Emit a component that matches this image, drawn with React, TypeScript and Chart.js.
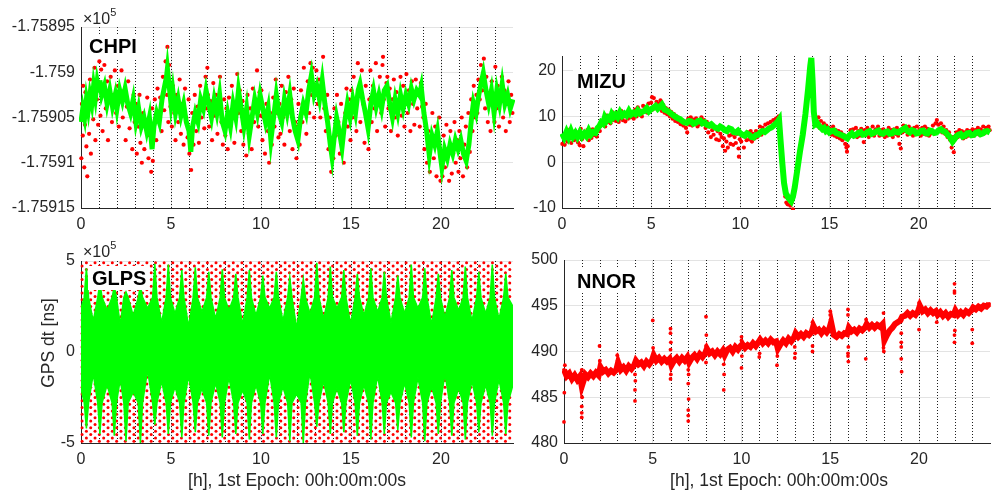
import { useEffect, useRef } from 'react';
import { Chart, registerables } from 'chart.js';

Chart.register(...registerables);

const FONT = '"Liberation Sans", Arial, Helvetica, sans-serif';
const AXIS_COLOR = '#262626';
const RED = '#ff0000';
const GREEN = '#00ff00';

// ---------- shared axis data ----------
const xTickHours = [0, 5, 10, 15, 20];
const hourLines = [1, 2, 3, 4, 5, 6, 7, 8, 9, 10, 11, 12, 13, 14, 15, 16, 17, 18, 19, 20, 21, 22, 23];
const xLabelText = '[h], 1st Epoch: 00h:00m:00s';
const yLabelText = 'GPS dt [ns]';

// ---------- CHPI (ns; offsets relative to chpiRef) ----------
const chpiRef = -175900;
const chpiYTicks = [-175915, -175910, -175905, -175900, -175895];
const chpiGreen = [
  [0, -5.5], [0.1, -4.0], [0.2, -5.0], [0.3, -3.0], [0.4, -4.2], [0.5, -2.5], [0.6, -3.5], [0.7, -1.5], [0.8, -2.8], [0.9, -1.0],
  [1.0, -2.0], [1.05, -0.9], [1.15, -2.5], [1.3, -1.5], [1.45, -3.5], [1.6, -2.0], [1.75, -3.8], [1.9, -2.5], [2.0, -4.0], [2.15, -2.0],
  [2.3, -3.2], [2.45, -1.8], [2.6, -3.5], [2.75, -4.5], [2.9, -3.0], [3.05, -5.5], [3.2, -4.0], [3.35, -6.0], [3.5, -5.0], [3.65, -6.5],
  [3.8, -5.0], [3.95, -8.5], [4.05, -6.0], [4.2, -4.5], [4.35, -5.5], [4.5, -3.0], [4.6, -2.0], [4.75, -0.5], [4.8, 0.4], [4.9, -1.5],
  [5.0, -3.5], [5.1, -2.0], [5.25, -4.5], [5.4, -3.0], [5.55, -4.8], [5.7, -3.5], [5.85, -5.5], [6.0, -6.5], [6.1, -8.8], [6.2, -6.0],
  [6.35, -4.5], [6.5, -5.5], [6.65, -3.0], [6.8, -4.0], [6.95, -2.0], [7.1, -3.5], [7.25, -5.0], [7.4, -3.0], [7.55, -4.5], [7.7, -2.5],
  [7.85, -5.5], [8.0, -6.5], [8.15, -4.5], [8.3, -6.0], [8.45, -3.5], [8.6, -5.0], [8.75, -2.0], [8.9, -4.0], [9.05, -6.0], [9.2, -4.0],
  [9.35, -7.0], [9.5, -5.0], [9.65, -3.0], [9.8, -4.5], [9.95, -2.5], [10.1, -4.0], [10.25, -5.5], [10.4, -4.0], [10.55, -7.5], [10.7, -5.0],
  [10.85, -2.5], [11.0, -4.5], [11.15, -5.5], [11.3, -3.0], [11.45, -4.5], [11.6, -2.5], [11.75, -5.0], [11.9, -6.5], [12.05, -7.5], [12.2, -5.0],
  [12.35, -3.5], [12.5, -4.5], [12.65, -2.0], [12.8, -0.3], [12.95, -2.5], [13.1, -1.5], [13.25, -3.0], [13.4, -0.9], [13.55, -3.5], [13.7, -5.5],
  [13.85, -8.0], [13.95, -9.4], [14.05, -7.5], [14.2, -5.0], [14.35, -6.5], [14.5, -8.3], [14.65, -5.5], [14.8, -3.5], [14.95, -5.0], [15.1, -3.0],
  [15.25, -4.5], [15.4, -2.0], [15.5, -1.3], [15.65, -3.0], [15.8, -4.5], [15.95, -6.2], [16.1, -3.5], [16.25, -2.0], [16.4, -3.8], [16.55, -2.5],
  [16.7, -4.0], [16.85, -2.0], [17.0, -1.5], [17.15, -3.5], [17.3, -5.0], [17.45, -3.0], [17.6, -4.5], [17.75, -2.5], [17.9, -4.0], [18.05, -2.5],
  [18.2, -3.5], [18.35, -1.8], [18.5, -3.0], [18.65, -2.0], [18.8, -2.5], [18.9, -1.6], [19.05, -4.5], [19.2, -6.5], [19.35, -9.2], [19.5, -7.0],
  [19.65, -8.0], [19.8, -6.5], [19.95, -9.0], [20.05, -10.5], [20.2, -8.5], [20.35, -9.5], [20.5, -8.0], [20.65, -9.0], [20.8, -7.5], [20.95, -8.5],
  [21.1, -7.5], [21.25, -9.0], [21.4, -9.8], [21.55, -8.0], [21.7, -5.0], [21.8, -3.4], [21.95, -4.5], [22.1, -2.5], [22.25, -1.0], [22.35, -0.1],
  [22.5, -2.0], [22.65, -3.5], [22.8, -2.0], [22.95, -4.5], [23.1, -2.0], [23.25, -3.5], [23.4, -1.3], [23.55, -3.5], [23.7, -2.5], [23.85, -4.0],
  [24.0, -3.0],
];
const chpiRed = [
  [0.02, -9.5], [0.05, -3.5], [0.1, -7], [0.12, -1.5], [0.18, -10.5], [0.22, -5.8], [0.25, -2.2], [0.3, -8.2], [0.35, -11.5], [0.4, -4.5],
  [0.45, -6.8], [0.5, -0.8], [0.55, -9], [0.6, -2.8], [0.68, -5.2], [0.75, 0.5], [0.8, -7.5], [0.88, -3], [0.95, -5.8],
  [1.02, 1.2], [1.08, -4.8], [1.12, 0.3], [1.2, -6.5], [1.25, -2.2], [1.3, 0.8], [1.38, -4], [1.45, -1], [1.5, -7.5], [1.58, -3],
  [1.65, -0.5], [1.72, -5.5], [1.8, -2.5], [1.88, 0.2], [1.95, -4.5],
  [2.05, -1.5], [2.1, -6], [2.18, -3.2], [2.25, 0.2], [2.32, -5], [2.4, -2], [2.48, -7.5], [2.55, -3.8], [2.62, -1], [2.7, -6.2],
  [2.78, -4], [2.85, -8.5], [2.92, -2.5], [2.98, -5.5],
  [3.05, -3.5], [3.1, -9], [3.18, -6], [3.25, -2.5], [3.3, -7.8], [3.38, -10], [3.45, -4.5], [3.52, -8.5], [3.6, -6], [3.68, -2.8],
  [3.75, -9.5], [3.82, -7], [3.9, -11], [3.95, -4], [3.99, -9.8],
  [4.05, -5.8], [4.1, -3], [4.18, -7.5], [4.25, -1.8], [4.32, -5], [4.4, -2.8], [4.48, -6.5], [4.55, -0.5], [4.62, -4.2], [4.7, 1.2],
  [4.78, -2.5], [4.8, 2.8], [4.82, 0.2], [4.85, -5.5], [4.9, 0.8], [4.97, -3.8],
  [5.05, -6], [5.1, -1.5], [5.18, -4.5], [5.25, -7.5], [5.32, -2.5], [5.4, -5.5], [5.48, -0.8], [5.55, -6.8], [5.62, -3.5], [5.7, -8],
  [5.78, -1.8], [5.85, -5], [5.92, -7.2], [5.98, -3],
  [6.02, -9], [6.08, -6.5], [6.12, -10.8], [6.18, -4.5], [6.25, -8], [6.32, -2.5], [6.4, -6.5], [6.48, -3.8], [6.55, -7.8], [6.62, -1.5],
  [6.7, -5], [6.78, -3], [6.85, -6.2], [6.92, -0.5], [6.98, -4],
  [7.02, 0.5], [7.05, -2.5], [7.12, -6], [7.2, -3.2], [7.28, -7.5], [7.35, -1.2], [7.42, -4.8], [7.5, -2.5], [7.58, -6.8], [7.65, -3.8],
  [7.72, -0.5], [7.8, -5.5], [7.88, -8], [7.95, -3],
  [8.02, -7], [8.08, -4], [8.15, -8.5], [8.22, -2.8], [8.3, -6], [8.38, -1.5], [8.45, -5], [8.52, -7.8], [8.6, -3.5], [8.68, -0.2],
  [8.75, -4.5], [8.82, -2], [8.9, -6.5], [8.97, -3.2],
  [9.02, -8], [9.1, -4.5], [9.18, -9.2], [9.25, -2.5], [9.32, -6.8], [9.4, -4], [9.48, -8.5], [9.55, -1.8], [9.62, -5.5], [9.7, -3],
  [9.78, 0.2], [9.85, -6], [9.92, -2.2], [9.98, -4.8],
  [10.02, -2], [10.08, -7.5], [10.15, -5], [10.22, -9], [10.3, -3.5], [10.38, -6.5], [10.45, -10], [10.52, -4.5], [10.6, -8], [10.68, -2.8],
  [10.75, -6], [10.82, -0.8], [10.9, -4.5], [10.97, -7.2],
  [11.02, -3.5], [11.08, -6.8], [11.15, -1.5], [11.22, -5], [11.3, -8], [11.38, -2.2], [11.45, -4.5], [11.52, -0.5], [11.6, -6.5], [11.68, -3],
  [11.75, -8.5], [11.82, -1.8], [11.9, -5.5], [11.97, -9.5],
  [12.02, -6], [12.08, -3.5], [12.15, -8], [12.22, -2], [12.3, -5.5], [12.38, 0.5], [12.45, -3.8], [12.52, -6.8], [12.6, -1], [12.68, -4.5],
  [12.75, 1], [12.82, -2.5], [12.88, 0.5], [12.95, -5],
  [13.02, -1.5], [13.08, 0.2], [13.15, -3.5], [13.22, -0.8], [13.3, -5], [13.38, -2], [13.45, 1.7], [13.52, -4], [13.6, -6.5], [13.68, -2.5],
  [13.75, -8.5], [13.82, -5], [13.9, -11], [13.97, -7.5],
  [14.02, -9.5], [14.08, -4], [14.15, -7], [14.22, -2.5], [14.3, -5.5], [14.38, -9], [14.45, -3.5], [14.52, -6.5], [14.6, -10], [14.68, -4.5],
  [14.75, -1.8], [14.82, -6], [14.9, -3], [14.97, -7.5],
  [15.02, -2], [15.08, -5], [15.15, -0.5], [15.22, -3.8], [15.3, -6.5], [15.38, 1], [15.45, -2.5], [15.52, -5.5], [15.6, 0.2], [15.68, -3.5],
  [15.75, -7.8], [15.82, -1.5], [15.9, -4.8], [15.97, -8.5],
  [16.02, -3], [16.08, 0.2], [16.15, -5.5], [16.22, -1.5], [16.3, -4], [16.38, 1], [16.45, -6.5], [16.52, -2.5], [16.6, -0.5], [16.68, -4.5],
  [16.75, 0.8], [16.78, 1.7], [16.82, -3], [16.9, -6], [16.97, -1.2],
  [17.02, -0.5], [17.08, -4], [17.15, -1.8], [17.22, -6.5], [17.3, -3], [17.38, -0.8], [17.45, -5], [17.52, -2.2], [17.6, -7], [17.68, -3.5],
  [17.75, -0.5], [17.82, -4.8], [17.9, -1.5], [17.97, -6],
  [18.02, -3], [18.08, -0.2], [18.15, -4.5], [18.22, -2], [18.3, -6.5], [18.38, -1], [18.45, -3.5], [18.52, -5.8], [18.6, -0.8], [18.68, -4],
  [18.75, -2.5], [18.82, -6], [18.88, -1.2], [18.95, -3.8],
  [19.02, -5], [19.08, -8.5], [19.15, -3.5], [19.22, -10], [19.3, -6.5], [19.38, -11], [19.45, -7.5], [19.52, -4.5], [19.6, -9.5], [19.68, -6],
  [19.75, -11.5], [19.82, -8], [19.9, -5], [19.97, -12],
  [20.02, -9], [20.08, -11.5], [20.15, -7], [20.22, -10.5], [20.3, -5.8], [20.38, -8.5], [20.45, -12], [20.52, -6.5], [20.6, -11.2], [20.68, -9],
  [20.75, -5.5], [20.82, -10], [20.9, -7.5], [20.97, -11],
  [21.02, -6.5], [21.08, -9.5], [21.15, -5], [21.22, -11.5], [21.3, -8], [21.38, -6], [21.45, -10.5], [21.52, -4.5], [21.6, -8.8], [21.68, -3],
  [21.75, -6.5], [21.82, -1.5], [21.9, -5], [21.97, -2.5],
  [22.02, -4.5], [22.08, -0.8], [22.15, -3], [22.22, 0.8], [22.3, -2], [22.38, 1.5], [22.45, -4], [22.52, -0.5], [22.6, -5.5], [22.68, -2.5],
  [22.75, -6.5], [22.82, -1], [22.9, -3.5], [22.97, -5.5],
  [23.02, 0.6], [23.08, -4], [23.15, -1.5], [23.22, -6], [23.3, -2.8], [23.38, -0.5], [23.45, -5], [23.52, -2], [23.6, -6.5], [23.68, -3.5],
  [23.75, -1], [23.82, -5.5], [23.9, -2.5], [23.97, -4.5],
];

// ---------- MIZU (ns) ----------
const mizuYTicks = [-10, 0, 10, 20];
const mizuYMin = -10;
const mizuYMax = 23.2;
const mizuGreen = [
  [0, 6.3], [0.12, 5.4], [0.25, 6.6], [0.37, 5.5], [0.5, 6.8], [0.62, 5.6], [0.75, 6.4], [0.87, 5.5], [1.0, 6.5], [1.12, 5.6],
  [1.25, 6.3], [1.37, 5.7], [1.5, 6.9], [1.62, 6.0], [1.75, 6.6], [1.87, 6.4], [2.0, 7.5], [2.1, 7.9], [2.2, 8.7], [2.3, 8.4],
  [2.4, 9.8], [2.5, 9.1], [2.6, 9.7], [2.7, 9.3], [2.8, 10.5], [2.9, 9.9], [3.0, 10.4], [3.12, 9.8], [3.25, 10.9], [3.37, 10.1],
  [3.5, 10.6], [3.62, 10.2], [3.75, 11.2], [3.87, 10.4], [4.0, 10.8], [4.12, 10.5], [4.25, 11.3], [4.37, 10.7], [4.5, 11.0], [4.62, 11.2],
  [4.75, 11.8], [4.87, 11.1], [5.0, 11.6], [5.12, 11.9], [5.25, 12.3], [5.37, 11.7], [5.5, 12.2], [5.6, 12.6], [5.75, 11.5], [5.87, 11.3],
  [6.0, 11.0], [6.12, 10.6], [6.25, 10.2], [6.37, 9.9], [6.5, 9.6], [6.62, 9.4], [6.75, 9.0], [6.87, 8.7], [7.0, 8.6], [7.12, 9.0],
  [7.25, 8.9], [7.37, 8.4], [7.5, 8.6], [7.62, 9.0], [7.75, 9.1], [7.87, 8.5], [8.0, 8.7], [8.12, 8.2], [8.25, 8.0], [8.37, 8.3],
  [8.5, 7.8], [8.62, 7.5], [8.75, 7.3], [8.87, 7.8], [9.0, 7.5], [9.12, 7.0], [9.25, 6.8], [9.37, 7.4], [9.5, 7.2], [9.62, 6.6],
  [9.75, 6.5], [9.87, 6.9], [10.0, 6.3], [10.12, 6.0], [10.25, 5.8], [10.37, 6.3], [10.5, 6.0], [10.62, 5.5], [10.75, 5.4], [10.87, 5.9],
  [11.0, 6.0], [11.12, 6.5], [11.25, 6.8], [11.37, 6.6], [11.5, 7.0], [11.62, 7.4], [11.75, 7.6], [11.87, 8.0], [12.0, 8.5], [12.1, 8.9],
  [12.17, 9.3], [12.25, 5.0], [12.35, 0.0], [12.45, -4.5], [12.55, -6.8], [12.7, -7.8], [12.85, -8.5], [12.95, -7.5], [13.05, -5.5], [13.2, -1.5],
  [13.35, 2.5], [13.5, 6.0], [13.65, 10.5], [13.8, 16.0], [13.92, 21.0], [13.98, 22.8], [14.05, 18.0], [14.12, 11.0], [14.2, 8.3], [14.3, 8.6],
  [14.4, 8.0], [14.5, 7.6], [14.6, 7.2], [14.7, 7.5], [14.8, 6.8], [14.9, 7.1], [15.0, 6.5], [15.12, 6.8], [15.25, 6.9], [15.37, 6.4],
  [15.5, 6.2], [15.62, 6.0], [15.75, 5.8], [15.87, 5.5], [16.0, 5.2], [16.12, 5.9], [16.25, 6.3], [16.37, 5.8], [16.5, 6.0], [16.62, 6.4],
  [16.75, 6.6], [16.87, 6.0], [17.0, 6.1], [17.12, 6.6], [17.25, 6.8], [17.37, 6.2], [17.5, 6.4], [17.62, 6.7], [17.75, 6.9], [17.87, 6.3],
  [18.0, 6.2], [18.12, 6.6], [18.25, 6.7], [18.37, 6.2], [18.5, 6.3], [18.62, 6.8], [18.75, 6.6], [18.87, 6.5], [19.0, 6.9], [19.12, 7.2],
  [19.25, 7.5], [19.37, 6.8], [19.5, 6.5], [19.62, 7.0], [19.75, 6.8], [19.87, 6.3], [20.0, 6.4], [20.12, 6.8], [20.25, 6.9], [20.37, 6.4],
  [20.5, 6.3], [20.62, 6.9], [20.75, 6.8], [20.87, 6.4], [21.0, 6.5], [21.12, 7.0], [21.25, 7.2], [21.37, 6.8], [21.5, 6.6], [21.62, 6.0],
  [21.75, 5.5], [21.9, 4.5], [22.0, 5.0], [22.1, 5.6], [22.22, 6.0], [22.35, 6.2], [22.47, 5.6], [22.6, 5.8], [22.72, 6.3], [22.85, 6.4],
  [22.97, 5.9], [23.1, 6.0], [23.22, 6.5], [23.35, 6.6], [23.47, 6.1], [23.6, 6.3], [23.72, 6.7], [23.85, 6.8], [24.0, 6.5],
];
const mizuRed = [
  [0.02, 4.0], [0.08, 5.5], [0.15, 3.8], [0.22, 6.5], [0.3, 4.5], [0.38, 5.0], [0.45, 7.2], [0.52, 4.2], [0.6, 5.8], [0.68, 4.8],
  [0.75, 6.8], [0.82, 5.2], [0.9, 4.3], [0.97, 6.0],
  [1.0, 3.7], [1.05, 7.3], [1.12, 5.0], [1.2, 3.5], [1.28, 6.2], [1.35, 5.5], [1.42, 7.0], [1.5, 4.8], [1.58, 6.5], [1.65, 5.3],
  [1.72, 7.2], [1.8, 5.9], [1.88, 6.8], [1.95, 5.6],
  [2.05, 7.8], [2.12, 6.8], [2.2, 9.0], [2.28, 8.2], [2.35, 9.5], [2.42, 7.8], [2.5, 10.2], [2.58, 8.8], [2.65, 9.8], [2.72, 8.5],
  [2.8, 11.0], [2.88, 9.2], [2.95, 10.0],
  [3.02, 9.0], [3.1, 10.8], [3.18, 8.8], [3.25, 9.5], [3.32, 11.2], [3.4, 9.2], [3.48, 10.0], [3.55, 8.9], [3.62, 10.5], [3.7, 9.5],
  [3.78, 11.0], [3.85, 9.8], [3.92, 10.3],
  [4.02, 9.5], [4.1, 11.5], [4.18, 10.0], [4.25, 12.0], [4.32, 10.5], [4.4, 11.3], [4.48, 10.0], [4.55, 12.3], [4.62, 11.0], [4.7, 12.0],
  [4.78, 10.8], [4.85, 12.8], [4.92, 11.5],
  [5.0, 13.0], [5.05, 14.2], [5.08, 11.5], [5.15, 14.0], [5.22, 12.0], [5.3, 13.2], [5.38, 11.8], [5.45, 12.8], [5.52, 13.5], [5.6, 11.2],
  [5.68, 12.5], [5.75, 10.8], [5.82, 11.8], [5.9, 10.5], [5.97, 11.5],
  [6.05, 10.0], [6.12, 11.0], [6.2, 9.5], [6.28, 10.5], [6.35, 9.0], [6.42, 10.0], [6.5, 8.8], [6.58, 9.5], [6.65, 8.3], [6.72, 9.2],
  [6.8, 8.0], [6.88, 8.8], [6.95, 7.5],
  [7.02, 6.5], [7.08, 9.5], [7.15, 8.2], [7.22, 9.8], [7.3, 8.0], [7.38, 9.3], [7.45, 8.5], [7.52, 9.6], [7.6, 7.8], [7.68, 9.0],
  [7.75, 8.3], [7.82, 9.8], [7.9, 8.5], [7.97, 9.2],
  [8.05, 7.5], [8.12, 8.8], [8.2, 6.5], [8.28, 7.8], [8.35, 5.5], [8.42, 7.0], [8.5, 6.0], [8.58, 7.5], [8.65, 5.0], [8.72, 6.8],
  [8.8, 4.8], [8.88, 6.2], [8.95, 5.5],
  [9.02, 3.5], [9.08, 5.2], [9.15, 2.5], [9.22, 4.5], [9.3, 3.2], [9.38, 5.8], [9.45, 4.0], [9.52, 6.0], [9.6, 3.8], [9.68, 5.5],
  [9.75, 4.2], [9.82, 6.2], [9.9, 3.0], [9.92, 1.2], [9.97, 5.0],
  [10.05, 4.5], [10.12, 6.0], [10.2, 3.2], [10.28, 5.5], [10.35, 4.8], [10.42, 6.5], [10.5, 5.0], [10.58, 6.8], [10.65, 4.5], [10.72, 6.2],
  [10.8, 5.2], [10.88, 6.8], [10.95, 5.5],
  [11.02, 6.5], [11.1, 7.8], [11.18, 6.0], [11.25, 7.5], [11.32, 6.8], [11.4, 8.2], [11.48, 7.0], [11.55, 8.5], [11.62, 7.2], [11.7, 8.8],
  [11.78, 7.8], [11.85, 9.2], [11.92, 8.3],
  [12.0, 9.5], [12.08, 8.7], [12.15, 10.0], [12.22, 7.0], [12.3, 2.5], [12.38, -2.0], [12.45, -5.0], [12.52, -7.5], [12.58, -8.8], [12.65, -9.2],
  [12.72, -8.0], [12.8, -9.5], [12.88, -8.8], [12.95, -10.3], [13.0, -7.0], [13.1, -4.5],
  [14.15, 10.0], [14.22, 9.3], [14.3, 8.0], [14.38, 9.8], [14.45, 7.5], [14.52, 9.0], [14.6, 7.8], [14.68, 8.5], [14.75, 6.8], [14.82, 8.0],
  [14.9, 6.5], [14.97, 7.5],
  [15.05, 7.2], [15.12, 6.0], [15.2, 7.8], [15.28, 5.8], [15.35, 7.0], [15.42, 5.5], [15.5, 6.8], [15.58, 5.2], [15.65, 6.5], [15.72, 4.8],
  [15.8, 6.0], [15.88, 4.0], [15.95, 3.2], [15.98, 2.3],
  [16.02, 3.5], [16.1, 5.5], [16.18, 7.0], [16.25, 5.8], [16.32, 7.2], [16.4, 6.0], [16.48, 7.5], [16.55, 5.5], [16.62, 6.8], [16.7, 5.8],
  [16.78, 7.3], [16.85, 6.2], [16.92, 4.4], [16.98, 7.0],
  [17.05, 6.0], [17.12, 7.5], [17.2, 5.5], [17.28, 7.0], [17.35, 6.3], [17.42, 7.8], [17.5, 5.8], [17.58, 7.2], [17.65, 6.5], [17.72, 7.8],
  [17.8, 5.8], [17.88, 7.0], [17.95, 6.0],
  [18.02, 7.2], [18.1, 5.5], [18.18, 6.8], [18.25, 5.8], [18.32, 7.5], [18.4, 6.0], [18.48, 7.0], [18.55, 5.5], [18.62, 7.2], [18.7, 6.2],
  [18.78, 7.5], [18.85, 5.8], [18.92, 4.0], [18.97, 7.0],
  [19.0, 3.0], [19.08, 6.5], [19.15, 8.0], [19.22, 6.8], [19.3, 7.5], [19.38, 6.0], [19.45, 7.8], [19.52, 6.5], [19.6, 7.3], [19.68, 5.8],
  [19.75, 7.5], [19.82, 6.3], [19.9, 7.8], [19.97, 6.5],
  [20.05, 7.2], [20.12, 5.8], [20.2, 7.5], [20.28, 6.2], [20.35, 7.8], [20.42, 6.0], [20.5, 7.3], [20.58, 5.8], [20.65, 7.0], [20.72, 6.3],
  [20.8, 8.0], [20.88, 6.5], [20.95, 8.5],
  [21.02, 9.2], [21.1, 8.2], [21.18, 7.0], [21.25, 8.5], [21.32, 6.5], [21.4, 7.8], [21.48, 6.2], [21.55, 7.0], [21.62, 5.5], [21.7, 6.5],
  [21.78, 4.8], [21.85, 3.2], [21.92, 5.5], [21.97, 2.2],
  [22.05, 5.0], [22.12, 6.5], [22.2, 5.5], [22.28, 7.0], [22.35, 5.8], [22.42, 6.8], [22.5, 5.2], [22.58, 6.5], [22.65, 5.5], [22.72, 7.0],
  [22.8, 5.8], [22.88, 6.8], [22.95, 6.0],
  [23.02, 7.2], [23.1, 5.8], [23.18, 7.0], [23.25, 6.2], [23.32, 7.5], [23.4, 6.0], [23.48, 7.2], [23.55, 6.5], [23.62, 7.8], [23.7, 6.3],
  [23.78, 7.5], [23.85, 6.8], [23.92, 7.8], [23.98, 7.0],
];

// ---------- GLPS (x10^5 ns) ----------
const glpsYTicks = [-5, 0, 5];
const glpsSpikeHours = [0.3, 1.05, 1.85, 2.5, 3.3, 4.1, 4.85, 5.6, 6.35, 7.1, 7.85, 8.6, 9.35, 10.1, 10.85, 11.6,
  12.35, 13.1, 13.85, 14.6, 15.35, 16.1, 16.85, 17.6, 18.35, 19.1, 19.85, 20.6, 21.35, 22.1, 22.85, 23.6];
const glpsSpikeHalfWidth = 0.12;
const glpsMidHours = [0.68, 1.45, 2.18, 2.9, 3.7, 4.48, 5.22, 5.98, 6.72, 7.48, 8.22, 8.98, 9.72, 10.48, 11.22, 11.98,
  12.72, 13.48, 14.22, 14.98, 15.72, 16.48, 17.22, 17.98, 18.72, 19.48, 20.22, 20.98, 21.72, 22.48, 23.22];
const glpsUpperPeaks = [4.6, 3.8, 3.6, 3.3, 3.6, 4.85, 4.8, 4.5, 4.65, 4.4, 4.55, 4.3, 4.5, 4.2, 4.4, 4.1,
  4.0, 4.9, 4.7, 4.5, 4.3, 4.6, 4.4, 4.2, 4.8, 4.6, 4.3, 4.5, 4.7, 4.4, 4.8, 4.3];
const glpsUpperShoulder = 3.0;
const glpsUpperValleys = [1.7, 2.3, 1.5, 2.0, 2.4, 1.6, 2.1, 1.4, 2.2, 1.8, 2.3, 1.5, 2.0, 2.4, 1.7, 1.3,
  2.1, 1.8, 2.4, 1.5, 2.0, 2.2, 1.6, 2.1, 2.4, 1.5, 1.9, 2.3, 1.7, 2.1, 1.8];
const glpsUpperEnds = [2.4, 2.5];
const glpsLowerTroughs = [-4.2, -4.5, -4.6, -4.9, -5.0, -4.0, -4.5, -4.7, -4.4, -4.6, -4.7, -4.5, -4.8, -4.5, -4.7, -4.9,
  -5.0, -4.1, -4.5, -4.4, -4.6, -4.8, -4.5, -4.3, -4.7, -4.9, -4.5, -4.6, -4.8, -4.4, -4.6, -4.5];
const glpsLowerShoulder = -2.8;
const glpsLowerCrests = [-1.2, -1.8, -1.5, -2.2, -1.0, -1.6, -1.9, -1.3, -2.0, -1.7, -1.4, -2.1, -1.8, -1.2, -1.9, -2.3,
  -1.1, -1.6, -2.0, -1.5, -1.8, -1.3, -2.2, -1.7, -1.4, -1.9, -1.2, -2.0, -1.6, -1.8, -1.5];
const glpsLowerEnds = [-2.0, -1.8];
const glpsRedColsA = [0.06, 0.54, 1.02, 1.5, 1.98, 2.46, 2.94, 3.42, 3.9, 4.38, 4.86, 5.34, 5.82, 6.3, 6.78, 7.26, 7.74,
  8.22, 8.7, 9.18, 9.66, 10.14, 10.62, 11.1, 11.58, 12.06, 12.54, 13.02, 13.5, 13.98, 14.46, 14.94, 15.42, 15.9, 16.38,
  16.86, 17.34, 17.82, 18.3, 18.78, 19.26, 19.74, 20.22, 20.7, 21.18, 21.66, 22.14, 22.62, 23.1, 23.58];
const glpsRedColsB = [0.3, 0.78, 1.26, 1.74, 2.22, 2.7, 3.18, 3.66, 4.14, 4.62, 5.1, 5.58, 6.06, 6.54, 7.02, 7.5, 7.98,
  8.46, 8.94, 9.42, 9.9, 10.38, 10.86, 11.34, 11.82, 12.3, 12.78, 13.26, 13.74, 14.22, 14.7, 15.18, 15.66, 16.14, 16.62,
  17.1, 17.58, 18.06, 18.54, 19.02, 19.5, 19.98, 20.46, 20.94, 21.42, 21.9, 22.38, 22.86, 23.34, 23.82];
const glpsRedRowsA = [-4.9, -4.53, -4.16, -3.79, -3.42, -3.05, -2.68, -2.31, -1.94, -1.57, -1.2, -0.83, -0.46, -0.09,
  0.28, 0.65, 1.02, 1.39, 1.76, 2.13, 2.5, 2.87, 3.24, 3.61, 3.98, 4.35, 4.72];
const glpsRedRowsB = [-4.72, -4.35, -3.98, -3.61, -3.24, -2.87, -2.5, -2.13, -1.76, -1.39, -1.02, -0.65, -0.28, 0.09,
  0.46, 0.83, 1.2, 1.57, 1.94, 2.31, 2.68, 3.05, 3.42, 3.79, 4.16, 4.53, 4.9];

// ---------- NNOR (ns) ----------
const nnorYTicks = [480, 485, 490, 495, 500];
const nnorBand = [
  [0.0, 488.0], [0.15, 487.3], [0.3, 487.6], [0.45, 487.0], [0.6, 487.4], [0.75, 486.9], [0.9, 487.3],
  [1.0, 486.2], [1.1, 486.8], [1.2, 487.5], [1.35, 487.2], [1.5, 487.6], [1.65, 487.3], [1.8, 487.7], [1.95, 487.4],
  [2.05, 488.3], [2.2, 487.8], [2.35, 488.0], [2.5, 487.6], [2.65, 487.9], [2.8, 487.7], [2.95, 488.0],
  [3.05, 488.8], [3.2, 488.0], [3.35, 488.3], [3.5, 487.9], [3.65, 488.4], [3.8, 488.1], [3.95, 488.5],
  [4.05, 489.0], [4.2, 488.6], [4.35, 488.8], [4.5, 488.4], [4.65, 488.9], [4.8, 488.6], [4.95, 489.0],
  [5.05, 489.6], [5.2, 489.0], [5.35, 489.3], [5.5, 488.9], [5.65, 489.2], [5.8, 488.9], [5.95, 489.2],
  [6.05, 488.5], [6.2, 489.0], [6.35, 489.3], [6.5, 488.9], [6.65, 489.3], [6.8, 489.0], [6.95, 489.4],
  [7.05, 488.8], [7.2, 489.3], [7.35, 489.6], [7.5, 489.2], [7.65, 489.7], [7.8, 489.4], [7.95, 489.8],
  [8.05, 490.3], [8.2, 489.8], [8.35, 490.0], [8.5, 489.6], [8.65, 490.0], [8.8, 489.7], [8.95, 490.1],
  [9.05, 489.6], [9.2, 490.2], [9.35, 490.4], [9.5, 490.0], [9.65, 490.5], [9.8, 490.2], [9.95, 490.6],
  [10.05, 490.8], [10.2, 490.4], [10.35, 490.7], [10.5, 490.5], [10.65, 490.9], [10.8, 490.6], [10.95, 491.0],
  [11.05, 491.3], [11.2, 490.9], [11.35, 491.2], [11.5, 490.9], [11.65, 491.3], [11.8, 491.0], [11.95, 491.1],
  [12.05, 490.3], [12.2, 490.8], [12.35, 491.2], [12.5, 490.9], [12.65, 491.4], [12.8, 491.1], [12.95, 491.5],
  [13.05, 492.0], [13.2, 491.6], [13.35, 491.9], [13.5, 491.6], [13.65, 492.0], [13.8, 491.8], [13.95, 492.1],
  [14.05, 492.8], [14.2, 492.2], [14.35, 492.4], [14.5, 492.0], [14.65, 492.4], [14.8, 492.1], [14.95, 492.5],
  [15.05, 493.2], [15.2, 491.8], [15.35, 491.6], [15.5, 491.9], [15.65, 491.7], [15.8, 492.0], [15.95, 491.9],
  [16.05, 492.6], [16.2, 492.2], [16.35, 492.4], [16.5, 492.1], [16.65, 492.5], [16.8, 492.3], [16.95, 492.6],
  [17.05, 493.0], [17.2, 492.6], [17.35, 492.9], [17.5, 492.6], [17.65, 492.9], [17.8, 492.7], [17.95, 493.0],
  [18.05, 491.2], [18.2, 491.8], [18.35, 492.3], [18.5, 492.6], [18.65, 493.0], [18.8, 493.2], [18.95, 493.4],
  [19.05, 493.8], [19.2, 493.9], [19.35, 494.2], [19.5, 493.9], [19.65, 494.2], [19.8, 494.0], [19.95, 494.4],
  [20.05, 495.0], [20.2, 494.4], [20.35, 494.6], [20.5, 494.2], [20.65, 494.5], [20.8, 494.2], [20.95, 494.4],
  [21.05, 494.0], [21.2, 494.3], [21.35, 493.9], [21.5, 494.2], [21.65, 493.8], [21.8, 494.1], [21.95, 494.0],
  [22.05, 494.5], [22.2, 494.0], [22.35, 494.3], [22.5, 494.0], [22.65, 494.4], [22.8, 494.2], [22.95, 494.5],
  [23.05, 494.8], [23.2, 494.6], [23.35, 494.9], [23.5, 494.7], [23.65, 495.0], [23.8, 494.9], [23.95, 495.2],
];
const nnorSpikes = [
  [0.0, 482.3], [0.02, 485.5], [0.05, 488.5],
  [1.0, 482.8], [1.0, 483.3], [1.0, 484.0], [1.02, 485.0], [1.03, 486.0], [1.0, 488.0],
  [2.0, 490.6], [2.02, 489.0],
  [3.0, 489.6], [3.02, 489.0],
  [4.0, 484.6], [4.0, 485.8], [4.02, 486.8], [4.0, 487.5],
  [5.0, 493.4], [5.02, 490.4], [5.0, 489.5],
  [6.0, 492.5], [6.0, 492.0], [6.02, 491.0], [6.0, 490.2], [6.02, 487.5], [6.0, 487.0],
  [7.0, 482.4], [7.0, 483.0], [7.0, 483.6], [7.02, 484.8], [7.0, 486.5], [7.02, 487.5], [7.0, 488.0],
  [8.0, 493.8], [8.02, 491.8], [8.0, 490.6], [8.0, 488.8],
  [9.0, 485.8], [9.02, 487.5], [9.0, 488.6],
  [10.0, 491.6], [10.0, 491.2], [10.02, 489.5], [10.0, 488.2],
  [11.0, 489.4], [11.02, 489.8],
  [12.0, 488.5], [12.02, 489.5],
  [13.0, 489.3], [13.02, 489.8], [13.0, 490.5],
  [14.0, 493.2], [14.02, 492.8], [14.0, 490.6], [14.0, 490.0],
  [15.0, 494.4], [15.0, 494.0], [15.02, 493.5],
  [16.0, 494.6], [16.0, 494.0], [16.02, 490.5], [16.0, 489.5], [16.02, 488.9], [16.0, 489.8],
  [17.0, 489.2], [17.02, 493.5],
  [18.0, 494.2], [18.0, 490.4], [18.02, 490.0],
  [19.0, 490.5], [19.0, 489.2], [19.02, 487.8], [19.0, 491.0], [19.0, 492.0],
  [20.0, 495.3], [20.0, 492.4],
  [21.0, 493.2],
  [22.0, 497.4], [22.0, 496.6], [22.0, 496.4], [22.02, 492.3], [22.0, 491.8], [22.0, 491.0],
  [23.0, 492.4], [23.0, 490.9],
];

// ---------- helpers ----------
const toPts = (pairs: number[][], base = 0) => pairs.map(([x, y]) => ({ x, y: base + y }));

function envelope(spikes: number[], peaks: number[], shoulder: number, mids: number[], valleys: number[], ends: number[]) {
  const pts = [{ x: 0, y: ends[0] }];
  spikes.forEach((h, i) => {
    pts.push({ x: h - glpsSpikeHalfWidth, y: shoulder });
    pts.push({ x: h, y: peaks[i] });
    pts.push({ x: h + glpsSpikeHalfWidth, y: shoulder });
    if (i < mids.length) pts.push({ x: mids[i], y: valleys[i] });
  });
  pts.push({ x: 24, y: ends[1] });
  return pts;
}

function lattice() {
  const pts: { x: number; y: number }[] = [];
  glpsRedColsA.forEach((h) => glpsRedRowsA.forEach((v) => pts.push({ x: h, y: v })));
  glpsRedColsB.forEach((h) => glpsRedRowsB.forEach((v) => pts.push({ x: h, y: v })));
  return pts;
}

const redDots = (data: any[], r = 2, order = 1) => ({
  data, showLine: false, pointRadius: r, pointBackgroundColor: RED, pointBorderWidth: 0,
  borderColor: RED, backgroundColor: RED, order, clip: 2,
});
const greenLine = (data: any[], w: number) => ({
  data, borderColor: GREEN, borderWidth: w, pointRadius: 0, fill: false, order: 0, clip: 2,
});

type Spec = {
  left: number; top: number; w: number; h: number;
  area: { l: number; t: number; r: number; b: number };
  yMin: number; yMax: number; yTicks: number[]; yFmt: (v: number) => string;
  datasets: any[];
  title: { text: string; x: number; y: number };
  exp?: { x: number; y: number };
  xLabel?: { x: number; y: number };
  yLabel?: { x: number; y: number };
};

const fmtChpi = (v: number) => (v / 1e5).toFixed(5).replace(/0+$/, '');
const fmtPlain = (v: number) => String(v);

const specs: Spec[] = [
  {
    left: 0, top: 0, w: 520, h: 235, area: { l: 81, t: 27, r: 513, b: 208 },
    yMin: -175915, yMax: -175895, yTicks: chpiYTicks, yFmt: fmtChpi,
    datasets: [greenLine(toPts(chpiGreen, chpiRef), 5), redDots(toPts(chpiRed, chpiRef), 2.1)],
    title: { text: 'CHPI', x: 89, y: 53 }, exp: { x: 83, y: 24 },
  },
  {
    left: 520, top: 0, w: 474, h: 235, area: { l: 42, t: 56, r: 474, b: 208 },
    yMin: mizuYMin, yMax: mizuYMax, yTicks: mizuYTicks, yFmt: fmtPlain,
    datasets: [greenLine(toPts(mizuGreen), 6), redDots(toPts(mizuRed), 2.1)],
    title: { text: 'MIZU', x: 57, y: 88 },
  },
  {
    left: 0, top: 235, w: 520, h: 258, area: { l: 81, t: 26, r: 513, b: 208 },
    yMin: -5, yMax: 5, yTicks: glpsYTicks, yFmt: fmtPlain,
    datasets: [
      { data: envelope(glpsSpikeHours, glpsUpperPeaks, glpsUpperShoulder, glpsMidHours, glpsUpperValleys, glpsUpperEnds),
        borderColor: GREEN, backgroundColor: GREEN, borderWidth: 1.5, pointRadius: 0, fill: '+1', order: 0, clip: 0 },
      { data: envelope(glpsSpikeHours, glpsLowerTroughs, glpsLowerShoulder, glpsMidHours, glpsLowerCrests, glpsLowerEnds),
        borderColor: GREEN, borderWidth: 1.5, pointRadius: 0, fill: false, order: 1, clip: 0 },
      redDots(lattice(), 1.5, 2),
    ],
    title: { text: 'GLPS', x: 92, y: 50 }, exp: { x: 83, y: 22 },
    xLabel: { x: 297, y: 246 }, yLabel: { x: 49, y: 108 },
  },
  {
    left: 520, top: 235, w: 474, h: 258, area: { l: 44, t: 25, r: 474, b: 208 },
    yMin: 480, yMax: 500, yTicks: nnorYTicks, yFmt: fmtPlain,
    datasets: [
      { data: toPts(nnorBand), borderColor: RED, borderWidth: 6, pointRadius: 1.9, pointBackgroundColor: RED,
        pointBorderWidth: 0, fill: false, order: 1, clip: 2 },
      redDots(toPts(nnorSpikes), 1.9, 0),
    ],
    title: { text: 'NNOR', x: 57, y: 53 },
    xLabel: { x: 259, y: 246 },
  },
];

function decorPlugin(spec: Spec) {
  return {
    id: 'decor',
    beforeDatasetsDraw(chart: any) {
      const { ctx, chartArea: a } = chart;
      const xs = chart.scales.x;
      ctx.save();
      ctx.strokeStyle = '#1e1e1e';
      ctx.lineWidth = 1;
      ctx.setLineDash([1, 2]);
      hourLines.forEach((h) => {
        const px = Math.round(xs.getPixelForValue(h)) + 0.5;
        ctx.beginPath();
        ctx.moveTo(px, a.top);
        ctx.lineTo(px, a.bottom);
        ctx.stroke();
      });
      ctx.restore();
    },
    afterDatasetsDraw(chart: any) {
      const { ctx } = chart;
      const t = spec.title;
      ctx.save();
      ctx.font = `bold 20px ${FONT}`;
      const w = ctx.measureText(t.text).width;
      ctx.fillStyle = '#ffffff';
      ctx.fillRect(t.x - 4, t.y - 19, w + 7, 24);
      ctx.fillStyle = '#000000';
      ctx.textAlign = 'left';
      ctx.textBaseline = 'alphabetic';
      ctx.fillText(t.text, t.x, t.y);
      ctx.restore();
    },
    afterDraw(chart: any) {
      const { ctx } = chart;
      ctx.save();
      ctx.fillStyle = AXIS_COLOR;
      ctx.textBaseline = 'alphabetic';
      if (spec.exp) {
        ctx.textAlign = 'left';
        ctx.font = `16px ${FONT}`;
        ctx.fillText('\u00d710', spec.exp.x, spec.exp.y);
        const w = ctx.measureText('\u00d710').width;
        ctx.font = `11px ${FONT}`;
        ctx.fillText('5', spec.exp.x + w, spec.exp.y - 8);
      }
      if (spec.xLabel) {
        ctx.textAlign = 'center';
        ctx.textBaseline = 'middle';
        ctx.font = `17.5px ${FONT}`;
        ctx.fillText(xLabelText, spec.xLabel.x, spec.xLabel.y);
      }
      if (spec.yLabel) {
        ctx.translate(spec.yLabel.x, spec.yLabel.y);
        ctx.rotate(-Math.PI / 2);
        ctx.textAlign = 'center';
        ctx.textBaseline = 'middle';
        ctx.font = `17.5px ${FONT}`;
        ctx.fillText(yLabelText, 0, 0);
      }
      ctx.restore();
    },
  };
}

function buildConfig(spec: Spec): any {
  const tickFont = { family: FONT, size: 16 };
  return {
    type: 'line',
    data: { datasets: spec.datasets },
    options: {
      animation: false,
      responsive: false,
      events: [],
      layout: { padding: { top: spec.area.t, right: spec.w - spec.area.r, left: 0, bottom: 0 } },
      plugins: {
        legend: { display: false },
        tooltip: { enabled: false },
        filler: { drawTime: 'beforeDatasetDraw', propagate: false },
      },
      elements: { line: { tension: 0 } },
      scales: {
        x: {
          type: 'linear', min: 0, max: 24,
          afterBuildTicks: (s: any) => { s.ticks = xTickHours.map((v) => ({ value: v })); },
          afterFit: (s: any) => { s.height = spec.h - spec.area.b; s.paddingLeft = 0; s.paddingRight = 0; },
          ticks: { font: tickFont, color: AXIS_COLOR, padding: 7, maxRotation: 0, autoSkip: false, callback: (v: number) => String(v) },
          grid: { color: '#e3e3e3', drawTicks: false, lineWidth: 1 },
          border: { color: AXIS_COLOR, width: 1 },
        },
        y: {
          type: 'linear', min: spec.yMin, max: spec.yMax,
          afterBuildTicks: (s: any) => { s.ticks = spec.yTicks.map((v) => ({ value: v })); },
          afterFit: (s: any) => { s.width = spec.area.l; s.paddingTop = 0; s.paddingBottom = 0; },
          ticks: { font: tickFont, color: AXIS_COLOR, padding: 6, autoSkip: false, callback: (v: number) => spec.yFmt(v) },
          grid: { color: '#e3e3e3', drawTicks: false, lineWidth: 1 },
          border: { color: AXIS_COLOR, width: 1 },
        },
      },
    },
    plugins: [decorPlugin(spec)],
  };
}

function Panel({ spec }: { spec: Spec }) {
  const ref = useRef<HTMLCanvasElement>(null);
  useEffect(() => {
    if (!ref.current) return;
    const chart = new Chart(ref.current, buildConfig(spec));
    return () => chart.destroy();
  }, [spec]);
  return (
    <canvas
      ref={ref}
      width={spec.w}
      height={spec.h}
      style={{ position: 'absolute', left: spec.left, top: spec.top, width: spec.w, height: spec.h }}
    />
  );
}

export default function App() {
  return (
    <div style={{ position: 'absolute', left: 0, top: 0, width: 994, height: 493, background: '#ffffff', overflow: 'hidden' }}>
      {specs.map((s, i) => (
        <Panel key={i} spec={s} />
      ))}
    </div>
  );
}
